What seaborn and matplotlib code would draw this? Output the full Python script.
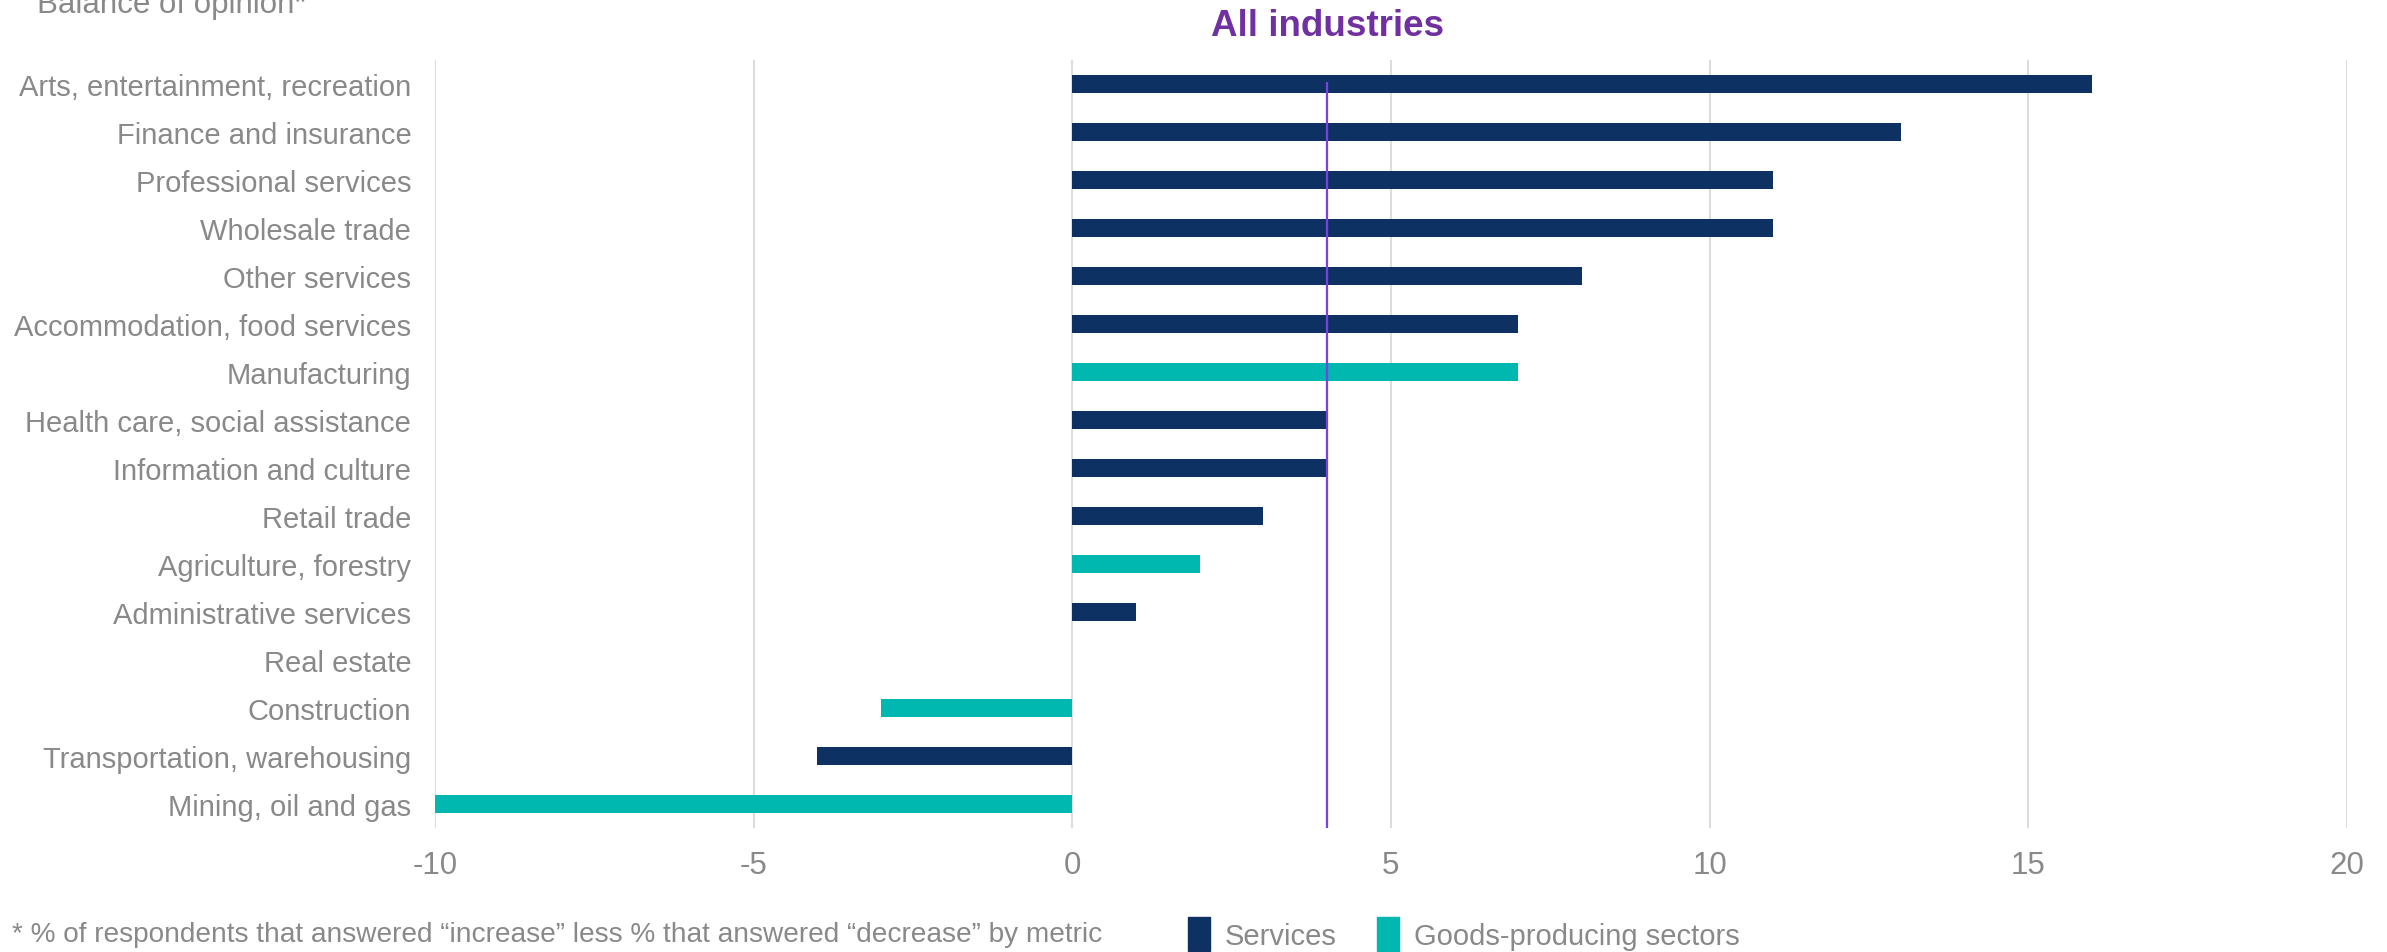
import matplotlib
matplotlib.use("Agg")
import matplotlib.pyplot as plt
import matplotlib.patches as mpatches
import seaborn as sns
import pandas as pd

# Industry balances of opinion (% increase minus % decrease)
industries = [
    "Arts, entertainment, recreation",
    "Finance and insurance",
    "Professional services",
    "Wholesale trade",
    "Other services",
    "Accommodation, food services",
    "Manufacturing",
    "Health care, social assistance",
    "Information and culture",
    "Retail trade",
    "Agriculture, forestry",
    "Administrative services",
    "Real estate",
    "Construction",
    "Transportation, warehousing",
    "Mining, oil and gas",
]
balances = [16, 13, 11, 11, 8, 7, 7, 4, 4, 3, 2, 1, 0, -3, -4, -10]
sector_type = [
    "Services", "Services", "Services", "Services", "Services", "Services",
    "Goods-producing sectors", "Services", "Services", "Services",
    "Goods-producing sectors", "Services", "Services",
    "Goods-producing sectors", "Services", "Goods-producing sectors",
]
all_industries = 4
x_ticks = [-10, -5, 0, 5, 10, 15, 20]

NAVY = "#0D3163"
TEAL = "#00B8B0"
PURPLE_TITLE = "#7030A0"
PURPLE_LINE = "#7B3FE4"
GREY_TEXT = "#898989"
GRID = "#D9D9D9"

sns.set_theme(style="white")
plt.rcParams["font.family"] = ["Liberation Sans", "DejaVu Sans"]

df = pd.DataFrame({"industry": industries, "balance": balances, "sector": sector_type})

fig = plt.figure(figsize=(23.87, 9.53), dpi=100)
ax = fig.add_axes([0.1822, 0.130, 0.801, 0.806])

sns.barplot(
    data=df, x="balance", y="industry", hue="sector",
    hue_order=["Services", "Goods-producing sectors"],
    palette={"Services": NAVY, "Goods-producing sectors": TEAL},
    order=industries, orient="h", dodge=False, width=0.36,
    saturation=1, legend=False, ax=ax, zorder=3,
)

# keep bar thickness fixed regardless of how the hue levels are laid out
bar_h = 0.36
for p in ax.patches:
    cy = p.get_y() + p.get_height() / 2
    p.set_y(cy - bar_h / 2)
    p.set_height(bar_h)
    p.set_linewidth(0)

ax.set_xlim(-10, 20)
ax.set_ylim(len(industries) - 0.5, -0.5)
ax.set_xticks(x_ticks)
ax.set_xticklabels([str(t) for t in x_ticks])
ax.xaxis.grid(True, color=GRID, linewidth=1.3, zorder=0)
ax.yaxis.grid(False)
for s in ax.spines.values():
    s.set_visible(False)
ax.set_xlabel("")
ax.set_ylabel("")
ax.tick_params(axis="x", length=0, pad=16, labelsize=22.5, labelcolor=GREY_TEXT)
ax.tick_params(axis="y", length=0, pad=17, labelsize=21, labelcolor=GREY_TEXT)

# All-industries reference line
ax.vlines(all_industries, -0.05, len(industries) - 0.5, color=PURPLE_LINE,
          linewidth=1.6, zorder=4)
ax.text(all_industries, -0.86, "All industries", transform=ax.transData,
        ha="center", va="bottom", fontsize=26.5, fontweight="bold",
        color=PURPLE_TITLE, clip_on=False)

fig.text(37 / 2387, 1 - 13 / 953, "Balance of opinion*", fontsize=22.5,
         color=GREY_TEXT, ha="left", va="baseline")

fig.text(12 / 2387, 1 - 935 / 953,
         "* % of respondents that answered \u201cincrease\u201d less % that answered \u201cdecrease\u201d by metric",
         fontsize=20.2, color=GREY_TEXT, ha="left", va="center")

handles = [mpatches.Patch(color=NAVY, label="Services"),
           mpatches.Patch(color=TEAL, label="Goods-producing sectors")]
leg = fig.legend(handles=handles, loc="center left",
                 bbox_to_anchor=(1188 / 2387, 1 - 935 / 953), ncol=2,
                 frameon=False, fontsize=21, handlelength=0.75,
                 handleheight=1.4, handletextpad=0.5, columnspacing=1.4,
                 borderpad=0, borderaxespad=0)
for t in leg.get_texts():
    t.set_color(GREY_TEXT)

fig.savefig("out.png", dpi=100)
